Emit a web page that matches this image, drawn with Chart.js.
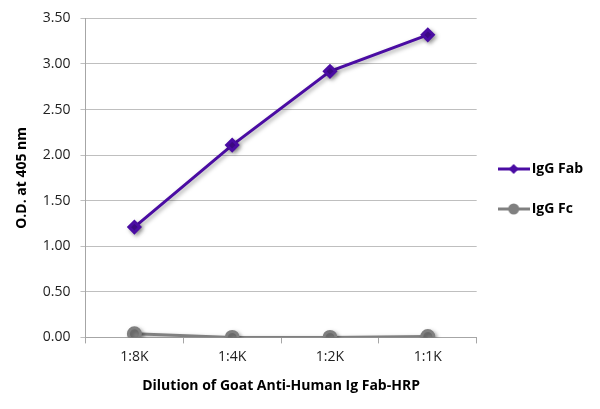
<!DOCTYPE html>
<html>
<head>
<meta charset="utf-8">
<script src="https://cdn.jsdelivr.net/npm/chart.js@4"></script>
<style>
  html, body { margin: 0; padding: 0; background: #fff; }
  #wrap { width: 600px; height: 409px; }
</style>
</head>
<body>
<div id="wrap"><canvas id="grafica"></canvas></div>
<script>
// Datos del gráfico
const diluciones = ["1:8K", "1:4K", "1:2K", "1:1K"];
const iggFab = [1.21, 2.11, 2.92, 3.32];
const iggFc = [0.04, 0.00, 0.00, 0.01];

const colorFab = "#4a0ca3";
const colorFc = "#808080";

// Icono de leyenda: línea con marcador
function iconoLeyenda(color, forma) {
    const c = document.createElement("canvas");
    c.width = 32; c.height = 14;
    const g = c.getContext("2d");
    g.strokeStyle = color;
    g.lineWidth = 3;
    g.beginPath(); g.moveTo(0, 7); g.lineTo(32, 7); g.stroke();
    g.fillStyle = color;
    g.beginPath();
    if (forma === "rombo") {
        g.moveTo(16, 2); g.lineTo(21, 7); g.lineTo(16, 12); g.lineTo(11, 7);
    } else {
        g.arc(16, 7, 5.5, 0, Math.PI * 2);
    }
    g.closePath(); g.fill();
    return c;
}
const iconos = [iconoLeyenda(colorFab, "rombo"), iconoLeyenda(colorFc, "circulo")];
const vacio = document.createElement("canvas");
vacio.width = 1; vacio.height = 1;

// Sombra para las líneas
const sombra = {
    id: "sombra",
    beforeDatasetsDraw(chart) {
        const ctx = chart.ctx;
        ctx.save();
        ctx.shadowColor = "rgba(0,0,0,0.35)";
        ctx.shadowBlur = 4;
        ctx.shadowOffsetX = 2;
        ctx.shadowOffsetY = 2;
    },
    afterDatasetsDraw(chart) {
        chart.ctx.restore();
    }
};

const fuente = "'Open Sans', 'Noto Sans', sans-serif";

new Chart(document.getElementById("grafica"), {
    type: "line",
    data: {
        labels: diluciones,
        datasets: [
            {
                label: "IgG Fab",
                data: iggFab,
                borderColor: colorFab,
                backgroundColor: colorFab,
                borderWidth: 3,
                pointStyle: "rectRot",
                pointRadius: 5.5,
                pointHoverRadius: 5.5,
                tension: 0
            },
            {
                label: "IgG Fc",
                data: iggFc,
                borderColor: colorFc,
                backgroundColor: colorFc,
                borderWidth: 3,
                pointStyle: "circle",
                pointRadius: 6,
                pointHoverRadius: 6,
                tension: 0
            }
        ]
    },
    options: {
        responsive: true,
        maintainAspectRatio: false,
        animation: false,
        layout: { padding: { top: 9, right: 7, left: 4, bottom: 0 } },
        plugins: {
            tooltip: { enabled: false },
            legend: {
                position: "right",
                labels: {
                    usePointStyle: true,
                    pointStyleWidth: 22,
                    padding: 26,
                    color: "#000",
                    font: { family: fuente, size: 14, weight: "bold" },
                    generateLabels(chart) {
                        const items = chart.data.datasets.map((ds, i) => ({
                            text: ds.label,
                            fillStyle: ds.backgroundColor,
                            strokeStyle: ds.borderColor,
                            pointStyle: iconos[i],
                            fontColor: "#000",
                            datasetIndex: i,
                            hidden: false
                        }));
                        // hueco para centrar la leyenda como en el original
                        items.push({ text: "", pointStyle: vacio, fillStyle: "rgba(0,0,0,0)", strokeStyle: "rgba(0,0,0,0)", hidden: false });
                        return items;
                    }
                },
                onClick: () => {}
            }
        },
        scales: {
            x: {
                offset: true,
                grid: {
                    offset: true,
                    drawOnChartArea: false,
                    drawTicks: true,
                    tickLength: 6,
                    color: "#a6a6a6"
                },
                border: { color: "#a6a6a6", width: 1 },
                ticks: {
                    color: "#222",
                    font: { family: fuente, size: 14 },
                    padding: 5
                },
                title: {
                    display: true,
                    text: "Dilution of Goat Anti-Human Ig Fab-HRP",
                    color: "#000",
                    font: { family: fuente, size: 14, weight: "bold" },
                    padding: { top: 7, bottom: 15 }
                }
            },
            y: {
                min: 0,
                max: 3.5,
                ticks: {
                    stepSize: 0.5,
                    color: "#222",
                    font: { family: fuente, size: 14 },
                    padding: 10,
                    callback: v => v.toFixed(2)
                },
                grid: { color: "#bfbfbf", drawTicks: true, tickLength: 5 },
                border: { color: "#a6a6a6", width: 1 },
                title: {
                    display: true,
                    text: "O.D. at 405 nm",
                    color: "#000",
                    font: { family: fuente, size: 14, weight: "bold" },
                    padding: { top: 10, bottom: 2 }
                }
            }
        }
    },
    plugins: [sombra]
});
</script>
</body>
</html>
